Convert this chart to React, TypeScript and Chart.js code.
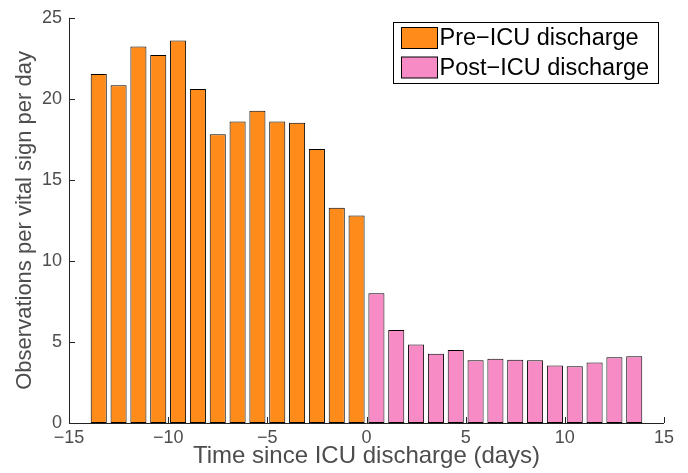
import React, { useEffect, useRef } from "react";
import { Chart, registerables } from "chart.js";

Chart.register(...registerables);

const preDays = [-13.5, -12.5, -11.5, -10.5, -9.5, -8.5, -7.5, -6.5, -5.5, -4.5, -3.5, -2.5, -1.5, -0.5];
const preValues = [21.54, 20.84, 23.23, 22.7, 23.6, 20.61, 17.81, 18.6, 19.26, 18.6, 18.52, 16.9, 13.28, 12.81];
const postDays = [0.5, 1.5, 2.5, 3.5, 4.5, 5.5, 6.5, 7.5, 8.5, 9.5, 10.5, 11.5, 12.5, 13.5];
const postValues = [8.01, 5.74, 4.84, 4.28, 4.51, 3.87, 3.96, 3.9, 3.87, 3.55, 3.5, 3.73, 4.06, 4.12];
const xTicks = [-15, -10, -5, 0, 5, 10, 15];
const yTicks = [0, 5, 10, 15, 20, 25];

const FONT = "'Liberation Sans', Arial, Helvetica, sans-serif";
const GREY = "#4d4d4d";

const inwardTicks = {
  id: "inwardTicks",
  afterDatasetsDraw(chart: any) {
    const { ctx, chartArea, scales } = chart;
    const x = scales.x;
    const y = scales.y;
    ctx.save();
    ctx.strokeStyle = "#222";
    ctx.lineWidth = 1;
    ctx.beginPath();
    ctx.moveTo(chartArea.left + 0.5, chartArea.top);
    ctx.lineTo(chartArea.left + 0.5, chartArea.bottom + 0.5);
    ctx.lineTo(chartArea.right, chartArea.bottom + 0.5);
    for (const v of xTicks) {
      const px = Math.round(x.getPixelForValue(v)) + 0.5;
      ctx.moveTo(px, chartArea.bottom);
      ctx.lineTo(px, chartArea.bottom - 6);
    }
    for (const v of yTicks) {
      const py = Math.round(y.getPixelForValue(v)) + 0.5;
      ctx.moveTo(chartArea.left, py);
      ctx.lineTo(chartArea.left + 6, py);
    }
    ctx.stroke();
    ctx.restore();
  },
};

export default function App() {
  const ref = useRef<HTMLCanvasElement | null>(null);
  useEffect(() => {
    document.body.style.margin = "0";
    const canvas = ref.current!;
    const barStyle = {
      borderColor: "#000",
      borderWidth: 1,
      borderSkipped: false,
      grouped: false,
      barPercentage: 1,
      categoryPercentage: 0.81,
    };
    const chart = new Chart(canvas, {
      type: "bar",
      data: {
        datasets: [
          {
            label: "Pre\u2212ICU discharge",
            data: preDays.map((d, i) => ({ x: d, y: preValues[i] })),
            backgroundColor: "#ff8c1a",
            ...barStyle,
          } as any,
          {
            label: "Post\u2212ICU discharge",
            data: postDays.map((d, i) => ({ x: d, y: postValues[i] })),
            backgroundColor: "#f78bc6",
            ...barStyle,
          } as any,
        ],
      },
      options: {
        animation: false,
        responsive: false,
        devicePixelRatio: 1,
        layout: { padding: { top: 16, right: 24, left: 0, bottom: 0 } },
        plugins: {
          tooltip: { enabled: false },
          legend: { display: false },
        },
        scales: {
          x: {
            type: "linear",
            min: -15,
            max: 15,
            offset: false,
            afterBuildTicks(scale: any) {
              scale.ticks = xTicks.map((v) => ({ value: v }));
            },
            afterFit(scale: any) {
              scale.height = 50;
            },
            grid: { display: false, drawTicks: false },
            border: { display: false },
            ticks: {
              padding: 4,
              color: GREY,
              font: { family: FONT, size: 18 },
              callback: (v: any) => (v < 0 ? "\u2212" + Math.abs(v) : String(v)),
            },
            title: {
              display: true,
              text: "Time since ICU discharge (days)",
              color: GREY,
              font: { family: FONT, size: 24 },
              padding: { top: 0, bottom: 2 },
            },
          },
          y: {
            min: 0,
            max: 25,
            afterBuildTicks(scale: any) {
              scale.ticks = yTicks.map((v) => ({ value: v }));
            },
            afterFit(scale: any) {
              scale.width = 69;
            },
            grid: { display: false, drawTicks: false },
            border: { display: false },
            ticks: {
              padding: 7,
              color: GREY,
              font: { family: FONT, size: 18 },
            },
            title: {
              display: true,
              text: "Observations per vital sign per day",
              color: GREY,
              font: { family: FONT, size: 22 },
              padding: { top: 12, bottom: 0 },
            },
          },
        },
      },
      plugins: [
        inwardTicks,
        {
          id: "boxLegend",
          afterDraw(c: any) {
            const ctx = c.ctx;
            const left = 393.5, top = 22.5, w = 265, h = 61;
            ctx.save();
            ctx.fillStyle = "#fff";
            ctx.fillRect(left, top, w, h);
            ctx.strokeStyle = "#000";
            ctx.lineWidth = 1;
            ctx.strokeRect(left, top, w, h);
            c.data.datasets.forEach((ds: any, i: number) => {
              const sy = top + 5 + i * 29.5;
              ctx.fillStyle = ds.backgroundColor;
              ctx.fillRect(left + 8, sy, 36, 21);
              ctx.strokeRect(left + 8, sy, 36, 21);
              ctx.fillStyle = "#000";
              ctx.font = "23.5px " + FONT;
              ctx.textBaseline = "middle";
              ctx.fillText(ds.label, left + 46, sy + 11.5);
            });
            ctx.restore();
          },
        },
      ],
    });
    return () => chart.destroy();
  }, []);
  return (
    <div style={{ width: 688, height: 473 }}>
      <canvas ref={ref} width={688} height={473} style={{ display: "block" }} />
    </div>
  );
}
